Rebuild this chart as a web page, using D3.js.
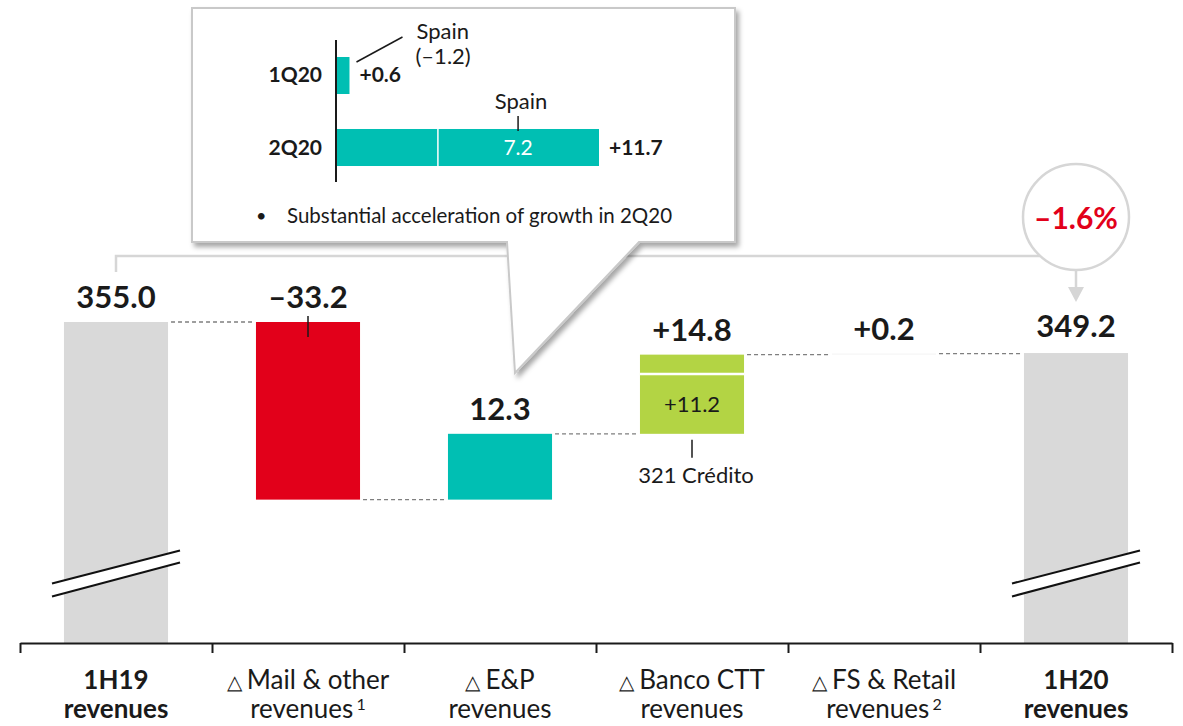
<!DOCTYPE html>
<html>
<head>
<meta charset="utf-8">
<script src="https://cdn.jsdelivr.net/npm/d3@7"></script>
<style>
  body { margin: 0; background: #fff; }
  #chart { width: 1183px; height: 726px; }
  text { font-family: Lato, "Open Sans", sans-serif; fill: #1a1a1a; }
</style>
</head>
<body>
<div id="chart"></div>
<script>
// main waterfall data (EUR m)
const categories = ["1H19", "Mail", "EP", "Banco", "FS", "1H20"];
const labelTop = ["1H19", "Mail & other", "E&P", "Banco CTT", "FS & Retail", "1H20"];
const labelBottom = ["revenues", "revenues", "revenues", "revenues", "revenues", "revenues"];
const footnotes = ["", "1", "", "", "2", ""];
const values = [355.0, -33.2, 12.3, 14.8, 0.2, 349.2];
const valueLabels = ["355.0", "\u201333.2", "12.3", "+14.8", "+0.2", "349.2"];
const isTotal = [true, false, false, false, false, true];
const barColors = ["#d9d9d9", "#e2001a", "#00bfb3", "#b3d444", "#f4f4f4", "#d9d9d9"];

// Banco CTT split
const bancoSubLabel = "321 Cr\u00e9dito";
const bancoSubValue = 11.2;

const growthLabel = "\u20131.6%";

// inset (E&P by quarter)
const quarters = ["1Q20", "2Q20"];
const quarterTotals = [0.6, 11.7];
const quarterSpain = [-1.2, 7.2];
const quarterLabels = ["+0.6", "+11.7"];
const spainName = "Spain";
const insetNote = "Substantial acceleration of growth in 2Q20";

class WaterfallVis {

    constructor(parentElement) {
        this.parentElement = parentElement;
        this.initVis();
    }

    initVis() {
        let vis = this;

        vis.width = 1183;
        vis.height = 726;

        vis.svg = d3.select("#" + vis.parentElement)
            .append("svg")
            .attr("width", vis.width)
            .attr("height", vis.height);

        // broken value axis: bars start well above zero
        vis.y = d3.scaleLinear().domain([295, 355]).range([643, 322]);
        vis.x = d3.scaleBand().domain(categories).range([20, 1172])
            .paddingInner(0.458).paddingOuter(0.229);
        vis.bw = vis.x.bandwidth();

        // waterfall positions
        let cum = 0;
        vis.bars = categories.map((c, i) => {
            let d = {cat: c, i: i, value: values[i]};
            if (isTotal[i]) {
                d.y0 = vis.y.domain()[0]; d.y1 = values[i]; cum = values[i];
            } else {
                d.y0 = cum; d.y1 = cum + values[i]; cum = d.y1;
            }
            d.lo = Math.min(d.y0, d.y1);
            d.hi = Math.max(d.y0, d.y1);
            return d;
        });

        vis.drawGrowth();
        vis.drawBars();
        vis.drawAxis();
        vis.drawCallout();
    }

    drawGrowth() {
        let vis = this;
        let first = vis.bars[0], last = vis.bars[5];
        let x0 = vis.x(first.cat) + vis.bw / 2;
        let x1 = vis.x(last.cat) + vis.bw / 2;
        let top = vis.y(first.hi);
        let cy = top - 105, r = 53;
        let lineY = top - 66;
        let dx = Math.sqrt(r * r - (lineY - cy) * (lineY - cy));

        vis.svg.append("path")
            .attr("d", `M${x0},${top - 50}V${lineY}H${x1 - dx}`)
            .attr("fill", "none")
            .attr("stroke", "#d6d6d6")
            .attr("stroke-width", 2.5);

        vis.svg.append("circle")
            .attr("cx", x1).attr("cy", cy).attr("r", r)
            .attr("fill", "#fff")
            .attr("stroke", "#d6d6d6")
            .attr("stroke-width", 2.5);

        vis.svg.append("text")
            .attr("x", x1).attr("y", cy + 12)
            .attr("text-anchor", "middle")
            .style("font-size", "30px")
            .style("font-weight", 700)
            .style("fill", "#e2001a")
            .text(growthLabel);

        // arrow down to the 1H20 label
        let tip = vis.y(last.hi) - 51;
        vis.svg.append("line")
            .attr("x1", x1).attr("x2", x1)
            .attr("y1", cy + r).attr("y2", tip - 12)
            .attr("stroke", "#d6d6d6").attr("stroke-width", 2.5);
        vis.svg.append("path")
            .attr("d", `M${x1 - 8},${tip - 15}L${x1 + 8},${tip - 15}L${x1},${tip}Z`)
            .attr("fill", "#d6d6d6");
    }

    drawBars() {
        let vis = this;

        // dashed connectors
        for (let i = 0; i < vis.bars.length - 1; i++) {
            let b = vis.bars[i];
            let yy = vis.y(b.y1);
            vis.svg.append("line")
                .attr("x1", vis.x(b.cat) + vis.bw + 3)
                .attr("x2", vis.x(vis.bars[i + 1].cat) - 3)
                .attr("y1", yy).attr("y2", yy)
                .attr("stroke", "#7f7f7f")
                .attr("stroke-width", 1.3)
                .attr("stroke-dasharray", "4,3");
        }

        vis.svg.selectAll(".bar")
            .data(vis.bars)
            .enter()
            .append("rect")
            .attr("class", "bar")
            .attr("x", d => vis.x(d.cat))
            .attr("width", vis.bw)
            .attr("y", d => vis.y(d.hi))
            .attr("height", d => Math.max(1, vis.y(d.lo) - vis.y(d.hi)))
            .attr("fill", d => barColors[d.i]);

        // value labels
        vis.svg.selectAll(".val")
            .data(vis.bars)
            .enter()
            .append("text")
            .attr("class", "val")
            .attr("x", d => vis.x(d.cat) + vis.bw / 2)
            .attr("y", d => vis.y(d.hi) - (d.i === 5 ? 16 : 14))
            .attr("text-anchor", "middle")
            .style("font-size", "31px")
            .style("font-weight", 700)
            .text(d => valueLabels[d.i]);

        // small marker on the red bar
        let mail = vis.bars[1];
        let mx = vis.x(mail.cat) + vis.bw / 2;
        vis.svg.append("line")
            .attr("x1", mx).attr("x2", mx)
            .attr("y1", vis.y(mail.hi) - 6).attr("y2", vis.y(mail.hi) + 15)
            .attr("stroke", "#1a1a1a").attr("stroke-width", 1.5);

        // Banco CTT: 321 Crédito part
        let banco = vis.bars[3];
        let bx = vis.x(banco.cat);
        let splitY = vis.y(banco.y0 + bancoSubValue);
        vis.svg.append("line")
            .attr("x1", bx).attr("x2", bx + vis.bw)
            .attr("y1", splitY).attr("y2", splitY)
            .attr("stroke", "#fff").attr("stroke-width", 2.5);
        vis.svg.append("text")
            .attr("x", bx + vis.bw / 2)
            .attr("y", (splitY + vis.y(banco.y0)) / 2 + 8)
            .attr("text-anchor", "middle")
            .style("font-size", "22px")
            .text("+" + bancoSubValue.toFixed(1));
        let bb = vis.y(banco.y0);
        vis.svg.append("line")
            .attr("x1", bx + vis.bw / 2).attr("x2", bx + vis.bw / 2)
            .attr("y1", bb + 6).attr("y2", bb + 24)
            .attr("stroke", "#1a1a1a").attr("stroke-width", 1.5);
        vis.svg.append("text")
            .attr("x", bx + vis.bw / 2 + 4)
            .attr("y", bb + 49)
            .attr("text-anchor", "middle")
            .style("font-size", "22px")
            .text(bancoSubLabel);

        // axis breaks on the total bars
        [vis.bars[0], vis.bars[5]].forEach(b => {
            let cx = vis.x(b.cat) + vis.bw / 2;
            let by = vis.y(308);
            vis.svg.append("path")
                .attr("d", `M${cx - 64},${by + 10}L${cx + 64},${by - 23}L${cx + 64},${by - 11}L${cx - 64},${by + 23}Z`)
                .attr("fill", "#fff");
            [[10, -23], [23, -11]].forEach(o => {
                vis.svg.append("line")
                    .attr("x1", cx - 64).attr("y1", by + o[0])
                    .attr("x2", cx + 64).attr("y2", by + o[1])
                    .attr("stroke", "#111").attr("stroke-width", 2);
            });
        });
    }

    drawAxis() {
        let vis = this;
        let xb = d3.scaleLinear().domain([0, categories.length]).range(vis.x.range());
        let axis = vis.svg.append("g")
            .attr("transform", `translate(0,${vis.y.range()[0]})`)
            .call(d3.axisBottom(xb).tickValues(d3.range(categories.length + 1))
                .tickSize(10).tickSizeOuter(0).tickFormat(""));
        axis.select(".domain").attr("stroke", "#1a1a1a").attr("stroke-width", 2);
        axis.selectAll(".tick line").attr("stroke", "#1a1a1a").attr("stroke-width", 2);

        let cx = d => vis.x(d.cat) + vis.bw / 2;

        // first line, with a delta marker for the change columns
        let l1 = vis.svg.selectAll(".cat1")
            .data(vis.bars)
            .enter()
            .append("text")
            .attr("class", "cat1")
            .attr("x", cx)
            .attr("y", 689)
            .attr("text-anchor", "middle")
            .style("font-size", "26px")
            .style("font-weight", d => isTotal[d.i] ? 700 : 400);
        l1.filter(d => !isTotal[d.i])
            .append("tspan")
            .style("font-size", "20px")
            .text("\u25B3 ");
        l1.append("tspan").text(d => labelTop[d.i]);

        // second line, with footnote numbers
        let l2 = vis.svg.selectAll(".cat2")
            .data(vis.bars)
            .enter()
            .append("text")
            .attr("class", "cat2")
            .attr("x", cx)
            .attr("y", 718)
            .attr("text-anchor", "middle")
            .style("font-size", "26px")
            .style("font-weight", d => isTotal[d.i] ? 700 : 400);
        l2.append("tspan")
            .text(d => labelBottom[d.i] + (footnotes[d.i] ? "\u2009" : ""));
        l2.filter(d => footnotes[d.i])
            .append("tspan")
            .attr("dy", -8)
            .style("font-size", "16px")
            .text(d => footnotes[d.i]);
    }

    drawCallout() {
        let vis = this;

        let defs = vis.svg.append("defs");
        let f = defs.append("filter").attr("id", "shadow")
            .attr("x", "-5%").attr("y", "-5%").attr("width", "115%").attr("height", "120%");
        f.append("feDropShadow")
            .attr("dx", 3).attr("dy", 4).attr("stdDeviation", 2.5)
            .attr("flood-color", "#000").attr("flood-opacity", 0.35);

        // box with pointer towards the E&P bar
        vis.svg.append("path")
            .attr("d", "M192,8H735V242H639L515,373L507,242H192Z")
            .attr("fill", "#fff")
            .attr("stroke", "#c9c9c9")
            .attr("stroke-width", 2)
            .attr("filter", "url(#shadow)");

        let xq = d3.scaleLinear().domain([0, 11.7]).range([336, 599]);
        let yq = d3.scaleBand().domain(quarters).range([40, 183])
            .paddingInner(0.486).paddingOuter(0.236);
        let h = yq.bandwidth();

        let g = vis.svg.append("g");

        quarters.forEach((q, i) => {
            let top = yq(q);
            let rest = quarterSpain[i] > 0 ? quarterTotals[i] - quarterSpain[i] : quarterTotals[i];
            g.append("rect")
                .attr("x", xq(0)).attr("y", top)
                .attr("width", xq(rest) - xq(0)).attr("height", h)
                .attr("fill", "#00bfb3");
            if (quarterSpain[i] > 0) {
                g.append("rect")
                    .attr("x", xq(rest) + 1.5).attr("y", top)
                    .attr("width", xq(quarterTotals[i]) - xq(rest) - 1.5).attr("height", h)
                    .attr("fill", "#00bfb3");
                let sx = xq(rest + quarterSpain[i] / 2);
                g.append("text")
                    .attr("x", sx).attr("y", top + h / 2 + 7)
                    .attr("text-anchor", "middle")
                    .style("font-size", "21px").style("fill", "#fff")
                    .text(quarterSpain[i].toFixed(1));
                g.append("line")
                    .attr("x1", sx).attr("x2", sx)
                    .attr("y1", top - 13).attr("y2", top + 2)
                    .attr("stroke", "#1a1a1a").attr("stroke-width", 1.5);
                g.append("text")
                    .attr("x", sx + 3).attr("y", top - 20)
                    .attr("text-anchor", "middle")
                    .style("font-size", "22px")
                    .text(spainName);
            } else {
                let ex = xq(quarterTotals[i]);
                g.append("line")
                    .attr("x1", ex + 7).attr("y1", top + 5)
                    .attr("x2", ex + 53).attr("y2", top - 20)
                    .attr("stroke", "#1a1a1a").attr("stroke-width", 1.5);
                let t = g.append("text")
                    .style("font-size", "22px");
                t.append("tspan").attr("x", ex + 67).attr("y", top - 18).text(spainName);
                t.append("tspan").attr("x", ex + 66).attr("y", top + 7)
                    .text("(" + "\u2013" + Math.abs(quarterSpain[i]).toFixed(1) + ")");
            }
            g.append("text")
                .attr("x", xq(quarterTotals[i]) + 10)
                .attr("y", top + h / 2 + 7)
                .style("font-size", "21px").style("font-weight", 700)
                .text(quarterLabels[i]);
            g.append("text")
                .attr("x", 322).attr("y", top + h / 2 + 7)
                .attr("text-anchor", "end")
                .style("font-size", "21px").style("font-weight", 700)
                .text(q);
        });

        g.append("line")
            .attr("x1", xq(0)).attr("x2", xq(0))
            .attr("y1", 40).attr("y2", 182)
            .attr("stroke", "#1a1a1a").attr("stroke-width", 2);

        g.append("text")
            .attr("x", 256).attr("y", 222)
            .style("font-size", "18px")
            .text("\u2022");
        g.append("text")
            .attr("x", 287).attr("y", 223)
            .style("font-size", "20.5px")
            .text(insetNote);
    }
}

new WaterfallVis("chart");
</script>
</body>
</html>
